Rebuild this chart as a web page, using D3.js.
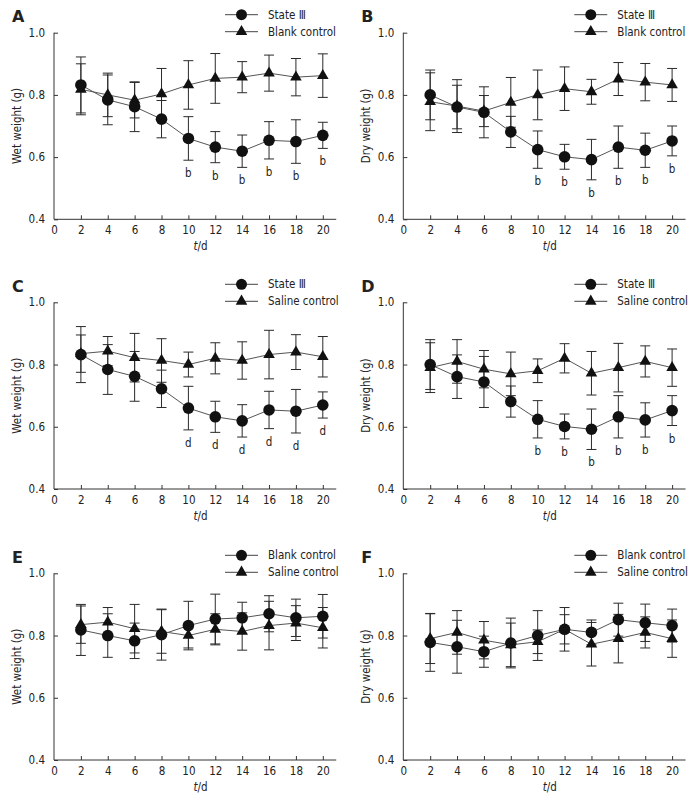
<!DOCTYPE html>
<html><head><meta charset="utf-8">
<script src="https://cdn.jsdelivr.net/npm/d3@7"></script>
<style>
body{margin:0;background:#fff;}
svg text{font-family:"DejaVu Sans Condensed","DejaVu Sans",sans-serif;fill:#222;}
</style></head><body>
<svg id="c" width="700" height="806"></svg>
<script>
const days = [2,4,6,8,10,12,14,16,18,20];
const xTicks = [0,2,4,6,8,10,12,14,16,18,20];
const yTicks = [0.4,0.6,0.8,1.0];

const wetState = [0.832,0.784,0.762,0.722,0.660,0.632,0.619,0.654,0.650,0.670];
const wetStateSD = [0.090,0.080,0.080,0.060,0.070,0.050,0.052,0.060,0.070,0.042];
const wetBlank = [0.818,0.800,0.783,0.803,0.832,0.853,0.857,0.870,0.857,0.862];
const wetBlankSD = [0.082,0.070,0.057,0.082,0.078,0.080,0.050,0.058,0.060,0.070];
const wetSaline = [0.835,0.843,0.822,0.813,0.800,0.820,0.813,0.832,0.840,0.825];
const wetSalineSD = [0.060,0.047,0.078,0.070,0.040,0.050,0.060,0.078,0.056,0.065];
const dryState = [0.800,0.761,0.744,0.681,0.624,0.601,0.592,0.632,0.622,0.652];
const dryStateSD = [0.080,0.070,0.082,0.050,0.060,0.040,0.065,0.068,0.055,0.048];
const dryBlank = [0.778,0.764,0.748,0.776,0.800,0.820,0.810,0.851,0.841,0.832];
const dryBlankSD = [0.093,0.085,0.050,0.080,0.080,0.070,0.040,0.053,0.060,0.053];
const drySaline = [0.790,0.810,0.785,0.770,0.780,0.820,0.772,0.790,0.810,0.790];
const drySalineSD = [0.080,0.070,0.060,0.070,0.038,0.047,0.070,0.078,0.050,0.060];

const sigDays = [10,12,14,16,18,20];

const panels = [
 {letter:"A", ylab:"Wet weight (g)", s1:["State Ⅲ",wetState,wetStateSD], s2:["Blank control",wetBlank,wetBlankSD], sig:"b", col:0,row:0},
 {letter:"B", ylab:"Dry weight (g)", s1:["State Ⅲ",dryState,dryStateSD], s2:["Blank control",dryBlank,dryBlankSD], sig:"b", col:1,row:0},
 {letter:"C", ylab:"Wet weight (g)", s1:["State Ⅲ",wetState,wetStateSD], s2:["Saline control",wetSaline,wetSalineSD], sig:"d", col:0,row:1},
 {letter:"D", ylab:"Dry weight (g)", s1:["State Ⅲ",dryState,dryStateSD], s2:["Saline control",drySaline,drySalineSD], sig:"b", col:1,row:1},
 {letter:"E", ylab:"Wet weight (g)", s1:["Blank control",wetBlank,wetBlankSD], s2:["Saline control",wetSaline,wetSalineSD], sig:null, col:0,row:2},
 {letter:"F", ylab:"Dry weight (g)", s1:["Blank control",dryBlank,dryBlankSD], s2:["Saline control",drySaline,drySalineSD], sig:null, col:1,row:2}
];

const colX = [54, 403.3];
const rowY = [[32.7,219.3],[302.3,489],[573.3,760]];
const svg = d3.select("#c");
const tri = d3.symbol().type(d3.symbolTriangle).size(58);

panels.forEach(p=>{
  const x0 = colX[p.col];
  const [yt, yb] = rowY[p.row];
  const x = d3.scaleLinear().domain([0,21]).range([x0, x0+21*13.44]);
  const y = d3.scaleLinear().domain([0.4,1.0]).range([yb, yt]);
  const g = svg.append("g");

  const ax = g.append("g").attr("transform",`translate(0,${yb})`)
    .call(d3.axisBottom(x).tickValues(xTicks).tickSize(-4).tickPadding(7).tickFormat(d3.format("d")));
  const ay = g.append("g").attr("transform",`translate(${x0},0)`)
    .call(d3.axisLeft(y).tickValues(yTicks).tickSize(-4).tickPadding(9).tickFormat(d3.format(".1f")));
  [ax,ay].forEach(a=>{
    a.select(".domain").attr("stroke","#333");
    a.selectAll(".tick line").attr("stroke","#333");
    a.selectAll(".tick text").style("font-size","11.5px").attr("fill","#222");
  });
  ax.select(".domain").attr("d",`M${x(0)},0H${x(21)}`);
  ay.select(".domain").attr("d",`M0,${y(1.0)}V${y(0.4)}`);
  ax.selectAll(".tick").filter(d=>d===0).select("line").remove();

  g.append("text").attr("x", x0-42).attr("y", yt-10.5).text(p.letter)
    .style("font-size","16px").style("font-weight","bold").attr("fill","#111")
    .style("font-family","'DejaVu Sans',sans-serif");
  g.append("text").attr("transform",`translate(${x0-33},${(yt+yb)/2}) rotate(-90)`)
    .attr("text-anchor","middle").style("font-size","11.5px").text(p.ylab);
  const xl = g.append("text").attr("x", x(10.9)).attr("y", yb+31).attr("text-anchor","middle").style("font-size","11.5px");
  xl.append("tspan").style("font-style","italic").text("t");
  xl.append("tspan").text("/d");

  const series = [p.s1, p.s2];
  const line = d3.line().x((d,i)=>x(days[i])).y(d=>y(d));
  series.forEach(s=>{
    g.append("path").datum(s[1]).attr("d",line).attr("fill","none").attr("stroke","#555").attr("stroke-width",1);
  });
  series.forEach(s=>{
    const eb = g.append("g").attr("stroke","#2a2a2a").attr("stroke-width",1).attr("fill","none");
    s[1].forEach((v,i)=>{
      const cx = x(days[i]), top = y(v+s[2][i]), bot = y(v-s[2][i]);
      eb.append("line").attr("x1",cx).attr("x2",cx).attr("y1",top).attr("y2",bot);
      eb.append("line").attr("x1",cx-5).attr("x2",cx+5).attr("y1",top).attr("y2",top);
      eb.append("line").attr("x1",cx-5).attr("x2",cx+5).attr("y1",bot).attr("y2",bot);
    });
  });
  g.append("g").selectAll("path").data(p.s2[1]).join("path")
    .attr("d",tri).attr("transform",(d,i)=>`translate(${x(days[i])},${y(d)})`).attr("fill","#111");
  g.append("g").selectAll("circle").data(p.s1[1]).join("circle")
    .attr("cx",(d,i)=>x(days[i])).attr("cy",d=>y(d)).attr("r",5.8).attr("fill","#111");

  if(p.sig){
    p.s1[1].forEach((v,i)=>{
      if(sigDays.includes(days[i])){
        g.append("text").attr("x",x(days[i])).attr("y",y(v-p.s1[2][i])+17)
          .attr("text-anchor","middle").style("font-size","11.5px").text(p.sig);
      }
    });
  }

  const lx = x0+171;
  [[p.s1[0],"c"],[p.s2[0],"t"]].forEach((L,k)=>{
    const ly = yt - 18 + k*17;
    g.append("line").attr("x1",lx).attr("x2",lx+33).attr("y1",ly).attr("y2",ly).attr("stroke","#444");
    if(L[1]==="c") g.append("circle").attr("cx",lx+16.5).attr("cy",ly).attr("r",5.5).attr("fill","#111");
    else g.append("path").attr("d",tri).attr("transform",`translate(${lx+16.5},${ly})`).attr("fill","#111");
    g.append("text").attr("x",lx+43).attr("y",ly+4).style("font-size","11.5px").text(L[0]);
  });
});
</script>
</body></html>
